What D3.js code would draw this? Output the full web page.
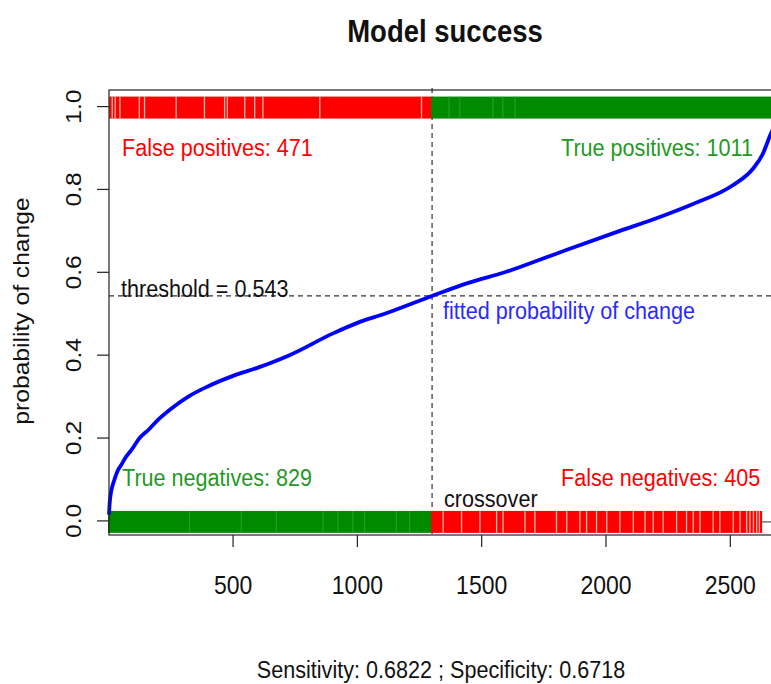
<!DOCTYPE html>
<html>
<head>
<meta charset="utf-8">
<script src="https://cdn.jsdelivr.net/npm/d3@7"></script>
<style>
  body { margin: 0; background: #fff; }
  text { font-family: "Liberation Sans", Arial, sans-serif; }
</style>
</head>
<body>
<div id="chart"></div>
<script>
// sorted fitted probabilities (index in sorted order, probability)
const probIndex = [1, 4, 8, 15, 23, 35, 50, 70, 90, 124, 160, 200, 260, 320, 400, 500, 600, 727, 900, 1000, 1110, 1300, 1450, 1593, 1800, 2056, 2200, 2350, 2510, 2591, 2630, 2660, 2690, 2716];
const probValue = [0.015, 0.045, 0.065, 0.085, 0.1, 0.12, 0.135, 0.155, 0.17, 0.2, 0.22, 0.245, 0.275, 0.3, 0.325, 0.35, 0.37, 0.4, 0.452, 0.478, 0.5, 0.543, 0.575, 0.6, 0.645, 0.7, 0.73, 0.765, 0.81, 0.85, 0.885, 0.93, 0.97, 1.0];

const nObs = 2716;
const threshold = 0.543;
const crossover = 1300;
const sensitivity = 0.6822;
const specificity = 0.6718;

// rug groups: observed outcome (0/1), index range and gaps seen in the rug
const groupNames = ["False positives", "True positives", "True negatives", "False negatives"];
const groupCounts = [471, 1011, 829, 405];
const groupOutcome = [1, 1, 0, 0];
const groupStart = [6, 1301, 1, 1301];
const groupEnd = [1300, 2716, 1300, 2624];
const fpGaps = [14, 26, 45, 123, 144, 271, 385, 466, 477, 547, 587, 620, 849, 1258];
const tpGaps = [1369, 1412, 1545, 1585, 1634];
const tnGaps = [325, 533, 674, 862, 922, 982, 1029, 1157, 1210];
const fnGaps = [1345, 1419, 1493, 1560, 1586, 1674, 1714, 1801, 1842, 1895, 1922, 1962, 2003, 2056, 2110, 2157, 2190, 2230, 2284, 2324, 2351, 2378, 2431, 2458, 2512, 2539, 2566, 2579, 2593, 2606, 2617];
const groupGaps = [fpGaps, tpGaps, tnGaps, fnGaps];

const xTicks = [500, 1000, 1500, 2000, 2500];
const yTicks = [0, 0.2, 0.4, 0.6, 0.8, 1.0];

const svgWidth = 771, svgHeight = 684;
const plot = { left: 109, right: 784, top: 90, bottom: 535 };
const stretch = 1.12; // text in the picture is taller than wide

const red = "#ff0000", green = "#008a00", textGreen = "#1f9a1f", blue = "#0000ff";

const x = d3.scaleLinear().domain([1, nObs]).range([plot.left, plot.right]);
const y = d3.scaleLinear().domain([-0.034, 1.04]).range([plot.bottom, plot.top]);

const svg = d3
  .select("#chart")
  .append("svg")
  .attr("width", svgWidth)
  .attr("height", svgHeight)
  .style("display", "block");

function label(txt, px, py, opts) {
  opts = opts || {};
  return svg
    .append("text")
    .attr("transform", `translate(${px},${py}) scale(1,${stretch})` + (opts.rotate ? " rotate(-90)" : ""))
    .attr("text-anchor", opts.anchor || "start")
    .attr("font-size", opts.size || 21.6)
    .attr("font-weight", opts.bold ? "bold" : "normal")
    .attr("fill", opts.color || "#111")
    .text(txt);
}

// reference lines at 0 and 1
svg
  .selectAll("line.hline")
  .data([0, 1])
  .enter()
  .append("line")
  .attr("x1", plot.left)
  .attr("x2", plot.right)
  .attr("y1", (d) => y(d) + 1)
  .attr("y2", (d) => y(d) + 1)
  .attr("stroke", "#333")
  .attr("stroke-width", 1);

// dashed threshold / crossover lines
svg
  .append("line")
  .attr("x1", plot.left)
  .attr("x2", plot.right)
  .attr("y1", y(threshold))
  .attr("y2", y(threshold))
  .attr("stroke", "#333")
  .attr("stroke-width", 1.2)
  .attr("stroke-dasharray", "5,4");
svg
  .append("line")
  .attr("x1", x(crossover + 0.5))
  .attr("x2", x(crossover + 0.5))
  .attr("y1", plot.top - 2)
  .attr("y2", plot.bottom + 2)
  .attr("stroke", "#333")
  .attr("stroke-width", 1.2)
  .attr("stroke-dasharray", "5,4");

// rug bands
const bandH = 22;
groupNames.forEach((name, i) => {
  const isRed = name.startsWith("False");
  const cy = y(groupOutcome[i]) + 1;
  svg
    .append("rect")
    .attr("x", x(groupStart[i]) - 1)
    .attr("y", cy - bandH / 2)
    .attr("width", x(groupEnd[i]) - x(groupStart[i]) + 2)
    .attr("height", bandH)
    .attr("fill", isRed ? red : green);
  svg
    .selectAll(null)
    .data(groupGaps[i])
    .enter()
    .append("line")
    .attr("x1", (d) => x(d))
    .attr("x2", (d) => x(d))
    .attr("y1", cy - bandH / 2)
    .attr("y2", cy + bandH / 2)
    .attr("stroke", isRed ? "#ffd0c0" : "#3aa83a")
    .attr("stroke-opacity", isRed ? 0.85 : 0.6)
    .attr("stroke-width", 1.3);
});

// fitted probability curve
const curve = d3
  .line()
  .x((d) => x(d[0]))
  .y((d) => y(d[1]))
  .curve(d3.curveMonotoneX);
svg
  .append("path")
  .datum(probIndex.map((d, i) => [d, probValue[i]]))
  .attr("d", curve)
  .attr("fill", "none")
  .attr("stroke", blue)
  .attr("stroke-width", 3.8)
  .attr("stroke-linejoin", "round");

// box
svg
  .append("rect")
  .attr("x", plot.left)
  .attr("y", plot.top)
  .attr("width", plot.right - plot.left)
  .attr("height", plot.bottom - plot.top)
  .attr("fill", "none")
  .attr("stroke", "#222")
  .attr("stroke-width", 1.2);

// axes ticks
svg
  .selectAll("line.xtick")
  .data(xTicks)
  .enter()
  .append("line")
  .attr("x1", (d) => x(d))
  .attr("x2", (d) => x(d))
  .attr("y1", plot.bottom)
  .attr("y2", plot.bottom + 12)
  .attr("stroke", "#222")
  .attr("stroke-width", 1.2);
xTicks.forEach((d) => label(String(d), x(d), 594, { anchor: "middle", size: 23 }));

svg
  .selectAll("line.ytick")
  .data(yTicks)
  .enter()
  .append("line")
  .attr("x1", plot.left)
  .attr("x2", plot.left - 12)
  .attr("y1", (d) => y(d))
  .attr("y2", (d) => y(d))
  .attr("stroke", "#222")
  .attr("stroke-width", 1.2);
yTicks.forEach((d) => label(d.toFixed(1), 81, y(d), { anchor: "middle", size: 22, rotate: true }));

label("probability of change", 29, 311, { anchor: "middle", size: 22, rotate: true });

// title and footer
label("Model success", 445, 42, { anchor: "middle", size: 27.5, bold: true });
label(`Sensitivity: ${sensitivity.toFixed(4)} ; Specificity: ${specificity.toFixed(4)}`, 441, 678, { anchor: "middle" });

// annotations
label(`${groupNames[0]}: ${groupCounts[0]}`, 122, 156, { color: red });
label(`${groupNames[1]}: ${groupCounts[1]}`, 561, 156, { color: textGreen });
label(`${groupNames[2]}: ${groupCounts[2]}`, 122, 486, { color: textGreen });
label(`${groupNames[3]}: ${groupCounts[3]}`, 561, 486, { color: red });
label("crossover", 444, 506.5);
label(`threshold = ${threshold}`, 121, y(threshold) + 1);
label("fitted probability of change", 443, 319, { color: "#2a2aff" });
</script>
</body>
</html>
